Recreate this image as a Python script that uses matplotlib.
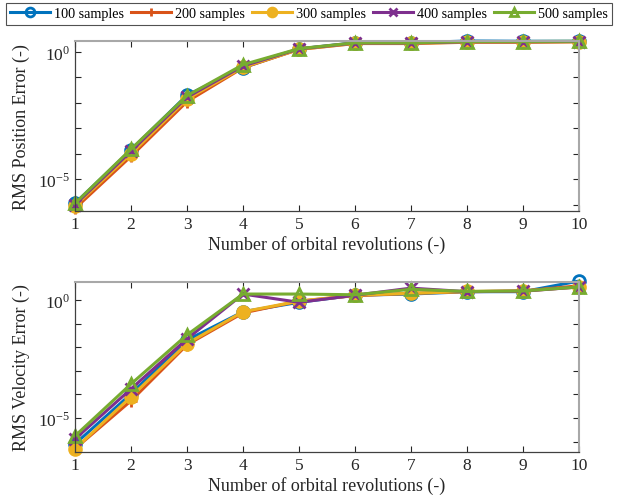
import numpy as np
import matplotlib
matplotlib.use("Agg")
import matplotlib.pyplot as plt
from matplotlib.ticker import FixedLocator, NullFormatter, FixedFormatter

plt.rcParams['font.family'] = ['Liberation Serif', 'DejaVu Serif']
plt.rcParams['mathtext.fontset'] = 'stix'
plt.rcParams['axes.unicode_minus'] = False

revs = [1, 2, 3, 4, 5, 6, 7, 8, 9, 10]
labels = ['100 samples', '200 samples', '300 samples', '400 samples', '500 samples']

# log10 of RMS position error
pos_100 = [-5.95, -3.85, -1.70, -0.62, 0.12, 0.36, 0.36, 0.43, 0.42, 0.42]
pos_200 = [-6.15, -4.10, -1.95, -0.62, 0.10, 0.33, 0.33, 0.38, 0.38, 0.40]
pos_300 = [-6.05, -4.00, -1.85, -0.60, 0.10, 0.34, 0.34, 0.39, 0.39, 0.40]
pos_400 = [-6.00, -3.90, -1.78, -0.55, 0.12, 0.35, 0.35, 0.40, 0.40, 0.41]
pos_500 = [-5.95, -3.82, -1.72, -0.50, 0.13, 0.36, 0.36, 0.41, 0.41, 0.42]

# log10 of RMS velocity error
vel_100 = [-6.10, -3.98, -1.70, -0.50, -0.10, 0.20, 0.25, 0.35, 0.35, 0.80]
vel_200 = [-6.30, -4.27, -1.90, -0.55, -0.05, 0.18, 0.28, 0.35, 0.38, 0.60]
vel_300 = [-6.30, -4.10, -1.85, -0.50, -0.05, 0.20, 0.28, 0.36, 0.38, 0.55]
vel_400 = [-5.89, -3.77, -1.65, 0.25, -0.10, 0.20, 0.50, 0.35, 0.37, 0.55]
vel_500 = [-5.76, -3.56, -1.48, 0.25, 0.25, 0.22, 0.45, 0.36, 0.38, 0.55]

colors = ['#0072BD', '#D95319', '#EDB120', '#7E2F8E', '#77AC30']
markers = ['o', '+', 'o', 'x', '^']
faces = ['none', '#D95319', '#EDB120', '#7E2F8E', 'none']

fig = plt.figure(figsize=(6.24, 5.02), dpi=100)
W, H = 624.0, 502.0
ax1 = fig.add_axes([75 / W, 1 - 212 / H, (579 - 75) / W, (212 - 42) / H])
ax2 = fig.add_axes([75 / W, 1 - 453 / H, (579 - 75) / W, (453 - 283) / H])


def draw(ax, series, ylim, ylabel):
    handles = []
    for vals, c, m, fc in zip(series, colors, markers, faces):
        h, = ax.plot(revs, 10.0 ** np.array(vals), color=c, lw=2.2, marker=m,
                     ms=8.5, mfc=fc, mec=c, mew=2.0, clip_on=False)
        handles.append(h)
    ax.set_yscale('log')
    ax.set_xlim(1, 10)
    ax.set_ylim(10.0 ** ylim[0], 10.0 ** ylim[1])
    ax.set_xticks(revs)
    ax.yaxis.set_major_locator(FixedLocator([1e-5, 1e0]))
    ax.yaxis.set_major_formatter(FixedFormatter(['10$^{\\mathregular{-5}}$',
                                                 '10$^{\\mathregular{0}}$']))
    ax.yaxis.set_minor_locator(FixedLocator([10.0 ** k for k in range(-7, 2)]))
    ax.yaxis.set_minor_formatter(NullFormatter())
    ax.tick_params(which='both', direction='in', top=True, right=True,
                   labelsize=12.5, colors='#262626', length=4, width=0.8)
    for s in ['left', 'bottom']:
        ax.spines[s].set_color('#404040')
        ax.spines[s].set_linewidth(0.9)
    for s in ['top', 'right']:
        ax.spines[s].set_color('#a8a8a8')
        ax.spines[s].set_linewidth(1.5)
    ax.set_xlabel('Number of orbital revolutions (-)', fontsize=13, color='#262626', labelpad=2)
    ax.set_ylabel(ylabel, fontsize=13, color='#262626', labelpad=6)
    return handles


hs = draw(ax1, [pos_100, pos_200, pos_300, pos_400, pos_500], (-6.25, 0.43),
          'RMS Position Error (-)')
draw(ax2, [vel_100, vel_200, vel_300, vel_400, vel_500], (-6.44, 0.76),
     'RMS Velocity Error (-)')

leg = fig.legend(hs, labels, loc='upper left', bbox_to_anchor=(6 / W, 1 - 4 / H),
                 ncol=5, fontsize=10.2, frameon=True, fancybox=False,
                 handlelength=2.8, handletextpad=0.3, columnspacing=0.5,
                 borderpad=0.3, borderaxespad=0, markerscale=0.75)
leg.get_frame().set_edgecolor('#262626')
leg.get_frame().set_linewidth(0.8)

fig.savefig('out.png', dpi=100)
